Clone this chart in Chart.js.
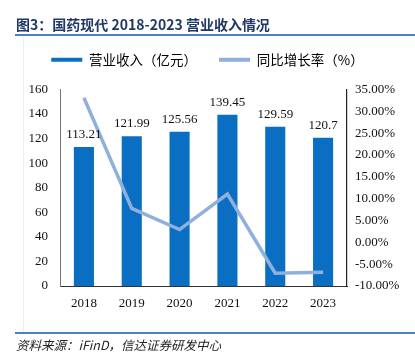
<!DOCTYPE html>
<html>
<head>
<meta charset="utf-8">
<script src="https://cdn.jsdelivr.net/npm/chart.js@4.4.1/dist/chart.umd.min.js"></script>
<style>
  html, body { margin: 0; padding: 0; background: #fff; }
  #wrap { position: relative; width: 415px; height: 356px; overflow: hidden; background: #fff; }
  #title { position: absolute; left: 16px; top: 15px; font-family: "Noto Sans CJK SC", "Noto Sans", sans-serif; font-weight: bold; font-size: 14px; line-height: 18px; color: #1f3864; white-space: nowrap; }
  #tline { position: absolute; left: 15px; top: 34px; width: 400px; height: 2px; background: #4f81bd; }
  #sline { position: absolute; left: 15px; top: 332px; width: 400px; height: 1.5px; background: #4f81bd; }
  #source { position: absolute; left: 16px; top: 336px; font-family: "Noto Sans CJK SC", "Liberation Serif", serif; font-style: italic; font-size: 12.5px; line-height: 17px; color: #222; white-space: nowrap; }
  #frame { position: absolute; left: 23px; top: 37px; width: 1px; height: 295px; background: #eee; }
  canvas { position: absolute; left: 0; top: 0; }
</style>
</head>
<body>
<div id="wrap">
  <canvas id="c" width="415" height="356"></canvas>
  <div id="frame"></div>
  <div id="title">图3：国药现代 2018-2023 营业收入情况</div>
  <div id="tline"></div>
  <div id="sline"></div>
  <div id="source">资料来源：iFinD，信达证券研发中心</div>
</div>
<script>
const categories = ["2018", "2019", "2020", "2021", "2022", "2023"];
const revenue = [113.21, 121.99, 125.56, 139.45, 129.59, 120.7];
const growth = [33.1, 7.76, 2.93, 11.06, -7.07, -6.86];
const revenueLabel = "营业收入（亿元）";
const growthLabel = "同比增长率（%）";

const barColor = "#0a6fc2";
const lineColor = "#8fb0dc";
const serif = "'Liberation Serif', 'Times New Roman', serif";
const cjk = "'Noto Sans CJK SC', sans-serif";

const barLabels = {
  id: 'barLabels',
  afterDatasetsDraw(chart) {
    const ctx = chart.ctx;
    const meta = chart.getDatasetMeta(0);
    ctx.save();
    ctx.font = "13px " + serif;
    ctx.fillStyle = "#111";
    ctx.textAlign = "center";
    ctx.textBaseline = "bottom";
    meta.data.forEach((bar, i) => {
      ctx.fillText(String(revenue[i]), bar.x, bar.y - 6);
    });
    ctx.restore();
  }
};

const legendSpace = {
  id: 'legendSpace',
  beforeInit(chart) {
    const orig = chart.legend.fit;
    chart.legend.fit = function () {
      orig.bind(chart.legend)();
      this.height += 13;
    };
  }
};

new Chart(document.getElementById('c'), {
  data: {
    labels: categories,
    datasets: [
      {
        type: 'bar',
        label: revenueLabel,
        data: revenue,
        backgroundColor: barColor,
        yAxisID: 'y',
        categoryPercentage: 1.0,
        barPercentage: 0.42,
        order: 2
      },
      {
        type: 'line',
        label: growthLabel,
        data: growth,
        borderColor: lineColor,
        backgroundColor: lineColor,
        borderWidth: 3.5,
        pointRadius: 0,
        tension: 0,
        yAxisID: 'y1',
        order: 1
      }
    ]
  },
  options: {
    responsive: false,
    animation: false,
    layout: { padding: { top: 31, bottom: 40, left: 0, right: 0 } },
    plugins: {
      tooltip: { enabled: false },
      title: { display: false },
      legend: {
        display: true,
        position: 'top',
        labels: {
          font: { size: 13.5, family: cjk },
          color: '#111',
          boxWidth: 31,
          boxHeight: 4,
          padding: 22,
          generateLabels(chart) {
            return [
              { text: revenueLabel, fillStyle: barColor, strokeStyle: barColor, lineWidth: 0, datasetIndex: 0 },
              { text: growthLabel, fillStyle: lineColor, strokeStyle: lineColor, lineWidth: 0, datasetIndex: 1 }
            ];
          }
        }
      }
    },
    scales: {
      x: {
        grid: { display: false, drawTicks: false },
        border: { display: true, color: '#333', width: 1 },
        ticks: { font: { size: 13, family: serif }, color: '#111', padding: 10 },
        afterFit(s) { s.height = 30; }
      },
      y: {
        position: 'left',
        min: 0, max: 160,
        ticks: { stepSize: 20, font: { size: 13, family: serif }, color: '#111', padding: 12 },
        grid: { display: false, drawTicks: false },
        border: { display: true, color: '#777', width: 1 },
        afterFit(s) { s.width = 60; }
      },
      y1: {
        position: 'right',
        min: -10, max: 35,
        ticks: {
          stepSize: 5,
          font: { size: 13, family: serif },
          color: '#111',
          padding: 4,
          callback: v => v.toFixed(2) + '%'
        },
        grid: { display: false, drawOnChartArea: false, drawTicks: true, tickLength: 4, color: '#222' },
        border: { display: true, color: '#222', width: 1.2 },
        afterFit(s) { s.width = 68; }
      }
    }
  },
  plugins: [barLabels, legendSpace]
});
</script>
</body>
</html>
